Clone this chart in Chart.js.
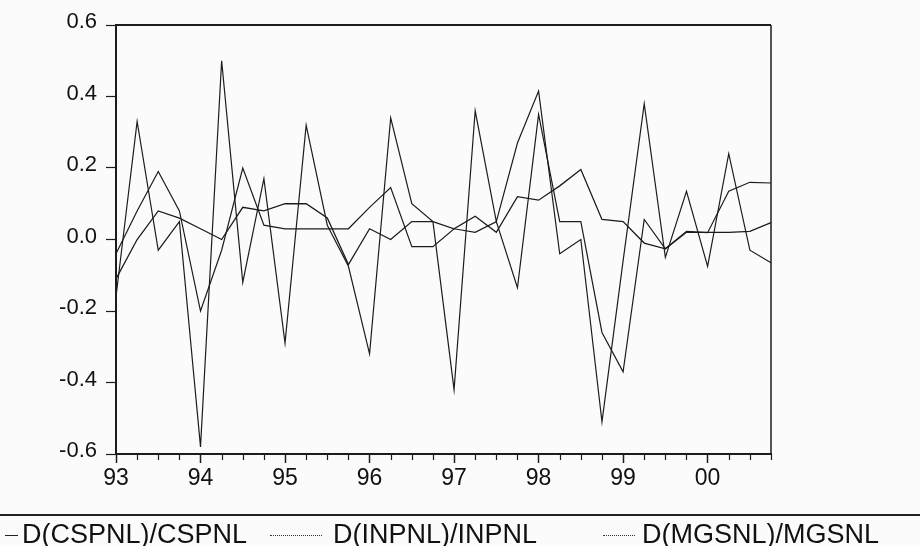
<!DOCTYPE html>
<html><head><meta charset="utf-8">
<script src="https://cdn.jsdelivr.net/npm/chart.js@4.4.0/dist/chart.umd.min.js"></script>
<style>
html,body{margin:0;padding:0;background:#fbfbfb;}
#wrap{position:relative;width:920px;height:546px;overflow:hidden;background:#fbfbfb;}
canvas{position:absolute;left:0;top:0;}
.sep{position:absolute;left:0;top:514px;width:920px;height:2px;background:#222;}
.leg{position:absolute;top:519px;font-family:"Liberation Sans",Arial,sans-serif;font-size:27px;color:#111;white-space:nowrap;line-height:normal;}
.lk{position:absolute;height:0;top:535px;border-top:1.5px solid #222;}
</style></head>
<body>
<div id="wrap">
<canvas id="c" width="920" height="546"></canvas>
<div class="sep"></div>
<div class="lk" style="left:5px;width:13px;"></div>
<div class="leg" style="left:22px;">D(CSPNL)/CSPNL</div>
<div class="lk" style="left:270px;width:52px;border-top:1px dotted #333;"></div>
<div class="leg" style="left:333px;">D(INPNL)/INPNL</div>
<div class="lk" style="left:603px;width:32px;border-top:1px dotted #333;"></div>
<div class="leg" style="left:642px;">D(MGSNL)/MGSNL</div>
</div>
<script>
const quarters = ['93Q1','93Q2','93Q3','93Q4','94Q1','94Q2','94Q3','94Q4','95Q1','95Q2','95Q3','95Q4','96Q1','96Q2','96Q3','96Q4','97Q1','97Q2','97Q3','97Q4','98Q1','98Q2','98Q3','98Q4','99Q1','99Q2','99Q3','99Q4','00Q1','00Q2','00Q3','00Q4'];
const yearLabels = ['93','94','95','96','97','98','99','00'];
const yTickValues = [-0.6,-0.4,-0.2,0.0,0.2,0.4,0.6];
const cspnl = [-0.11,0.0,0.08,0.06,0.03,0.0,0.09,0.08,0.10,0.10,0.06,-0.07,0.03,0.0,0.05,0.05,0.03,0.065,0.02,0.12,0.11,0.15,0.196,0.056,0.05,-0.01,-0.026,0.02,0.02,0.02,0.023,0.047];
const inpnl = [-0.16,0.33,-0.03,0.05,-0.58,0.50,-0.12,0.17,-0.29,0.32,0.04,-0.075,-0.32,0.34,0.10,0.05,-0.42,0.36,0.05,0.27,0.415,-0.04,0.0,-0.51,-0.06,0.38,-0.05,0.135,-0.075,0.24,-0.03,-0.065];
const mgsnl = [-0.04,0.08,0.19,0.08,-0.20,-0.03,0.20,0.04,0.03,0.03,0.03,0.03,0.09,0.145,-0.02,-0.02,0.03,0.02,0.05,-0.135,0.35,0.05,0.05,-0.26,-0.37,0.056,-0.026,0.023,0.019,0.135,0.16,0.158];

const INK = '#1c1c1c';
const FONT = '"Liberation Sans", Arial, sans-serif';

const frame = {
  id: 'frame',
  afterDraw(chart) {
    const {ctx, chartArea: a, scales} = chart;
    ctx.save();
    ctx.strokeStyle = INK;
    ctx.lineWidth = 2;
    ctx.beginPath();
    ctx.moveTo(a.left, a.top); ctx.lineTo(a.right, a.top);
    ctx.stroke();
    ctx.lineWidth = 1.5;
    ctx.beginPath();
    ctx.moveTo(a.right, a.top); ctx.lineTo(a.right, a.bottom);
    ctx.stroke();
    const xs = scales.x;
    ctx.lineWidth = 1.2;
    ctx.beginPath();
    for (let i = 0; i < quarters.length; i++) {
      if (i % 4 === 0) continue;
      const px = Math.round(xs.getPixelForValue(i)) + 0.5;
      ctx.moveTo(px, a.bottom); ctx.lineTo(px, a.bottom + 6);
    }
    ctx.stroke();
    ctx.restore();
  }
};

const ds = (label, data, w) => ({label, data, borderColor: INK, borderWidth: w, pointRadius: 0, tension: 0, fill: false});

new Chart(document.getElementById('c'), {
  type: 'line',
  data: {
    labels: quarters,
    datasets: [ds('D(CSPNL)/CSPNL', cspnl, 1.3), ds('D(INPNL)/INPNL', inpnl, 1.2), ds('D(MGSNL)/MGSNL', mgsnl, 1.2)]
  },
  options: {
    responsive: false,
    animation: false,
    devicePixelRatio: 1,
    layout: {padding: {top: 25, right: 149, left: 0, bottom: 0}},
    plugins: {legend: {display: false}, tooltip: {enabled: false}},
    scales: {
      x: {
        type: 'category',
        offset: false,
        afterFit(s) { s.height = 92; },
        border: {color: INK, width: 2},
        grid: {drawOnChartArea: false, drawTicks: true, tickLength: 9,
               tickColor: (c) => (c.index % 4 === 0 ? INK : 'rgba(0,0,0,0)'), tickWidth: 1.5},
        ticks: {autoSkip: false, maxRotation: 0, minRotation: 0, padding: 2,
                color: '#111', font: {family: FONT, size: 23},
                callback: (v, i) => (i % 4 === 0 ? yearLabels[i / 4] : '')}
      },
      y: {
        min: -0.6, max: 0.6,
        afterFit(s) { s.width = 116; },
        afterBuildTicks(s) { s.ticks = yTickValues.map(v => ({value: v})); },
        border: {color: INK, width: 2},
        grid: {drawOnChartArea: false, drawTicks: true, tickLength: 10, tickColor: INK, tickWidth: 1.2},
        ticks: {padding: 9, labelOffset: -3, color: '#111', font: {family: FONT, size: 22},
                callback: (v) => (Math.abs(v) < 1e-9 ? '0.0' : v.toFixed(1))}
      }
    }
  },
  plugins: [frame]
});
</script>
</body></html>
